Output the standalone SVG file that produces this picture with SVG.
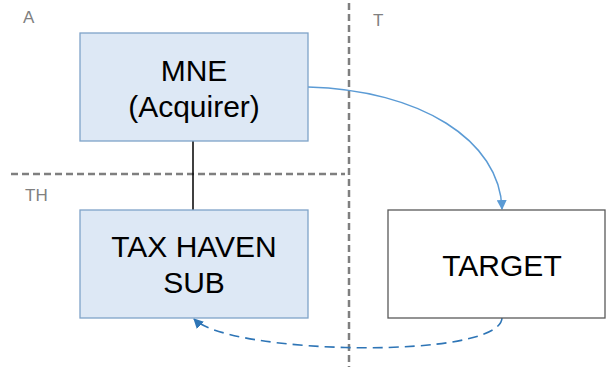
<svg xmlns="http://www.w3.org/2000/svg" width="606" height="370" viewBox="0 0 606 370">
<style>
.box{fill:#dde8f5;stroke:#7fa3c8;stroke-width:1.3}
.tbox{fill:#ffffff;stroke:#595959;stroke-width:1.3}
.lbl{font-family:"Liberation Sans",Arial,sans-serif;font-size:30px;fill:#000;text-anchor:middle}
.zone{font-family:"Liberation Sans",Arial,sans-serif;font-size:17px;fill:#808080}
.div{stroke:#7f7f7f;stroke-width:2.5;stroke-dasharray:7,4;fill:none}
</style>
<defs>
<marker id="ah1" markerWidth="10" markerHeight="10" refX="9" refY="5" orient="auto" markerUnits="userSpaceOnUse">
<path d="M0,0 L10,5 L0,10 z" fill="#5b9bd5"/>
</marker>
<marker id="ah2" markerWidth="10" markerHeight="10" refX="9" refY="5" orient="auto" markerUnits="userSpaceOnUse">
<path d="M0,0 L10,5 L0,10 z" fill="#2e75b6"/>
</marker>
</defs>
<g id="dividers">
<line class="div" x1="349" y1="3" x2="349" y2="367"/>
<line class="div" x1="11" y1="174" x2="345" y2="174"/>
</g>
<g id="zones">
<text class="zone" x="23" y="23">A</text>
<text class="zone" x="373" y="26">T</text>
<text class="zone" x="25" y="201">TH</text>
</g>
<g id="connectors">
<line x1="193" y1="141" x2="193" y2="210" stroke="#000" stroke-width="1.5"/>
<path d="M308,87 C420,90 500,140 502,209" fill="none" stroke="#5b9bd5" stroke-width="1.5" marker-end="url(#ah1)"/>
<path d="M502,318 C500,360 230,355 194,319" fill="none" stroke="#2e75b6" stroke-width="1.6" stroke-dasharray="10,6" marker-end="url(#ah2)"/>
</g>
<g id="mne">
<rect class="box" x="80" y="33" width="228" height="108"/>
<text class="lbl" x="194" y="81">MNE</text>
<text class="lbl" x="194" y="117">(Acquirer)</text>
</g>
<g id="taxhaven">
<rect class="box" x="80" y="210" width="228" height="108"/>
<text class="lbl" x="194" y="257">TAX HAVEN</text>
<text class="lbl" x="194" y="293">SUB</text>
</g>
<g id="target">
<rect class="tbox" x="388" y="210" width="217" height="108"/>
<text class="lbl" x="502" y="276">TARGET</text>
</g>
</svg>
